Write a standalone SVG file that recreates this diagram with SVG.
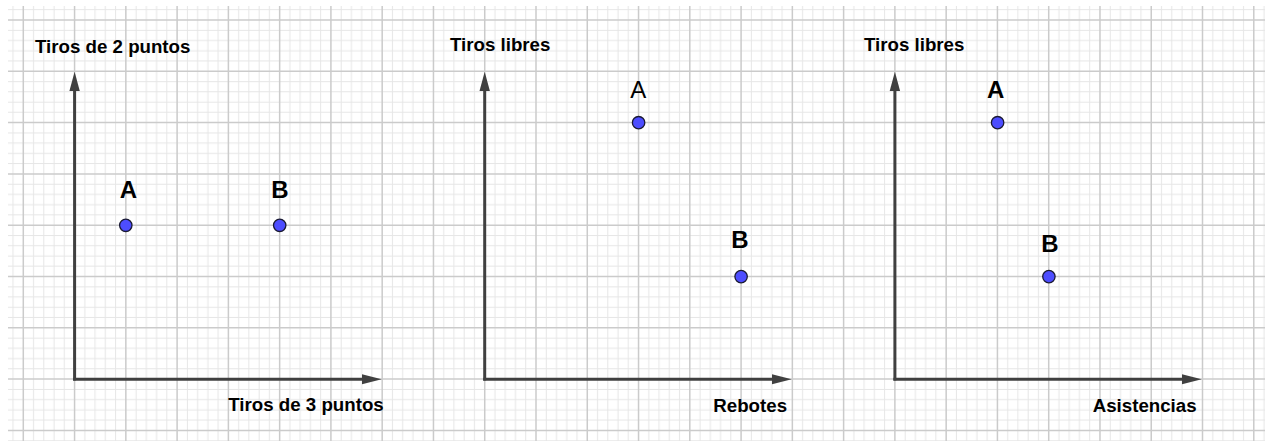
<svg xmlns="http://www.w3.org/2000/svg" width="1265" height="441" viewBox="0 0 1265 441">
  <style>
    .axis { stroke: #404040; stroke-width: 3; fill: none; }
    .head { fill: #404040; }
    .major { stroke: #cbcbcb; stroke-width: 1.5; fill: none; }
    .lbl { font-family: "Liberation Sans", Arial, sans-serif; font-weight: bold; font-size: 18.7px; fill: #000; }
    .pt { fill: #4d4dff; stroke: #1a1a33; stroke-width: 1.3; }
    .pl { font-family: "Liberation Sans", Arial, sans-serif; font-weight: bold; font-size: 24px; fill: #000; text-anchor: middle; }
    .plr { font-family: "Liberation Sans", Arial, sans-serif; font-size: 24px; fill: #000; text-anchor: middle; }
  </style>
  <defs>
    <pattern id="grid" patternUnits="userSpaceOnUse" x="23.3" y="20" width="51.27" height="51.3">
      <g stroke="#e6e6e6" stroke-width="1">
        <line x1="10.25" y1="0" x2="10.25" y2="51.3"/>
        <line x1="20.5" y1="0" x2="20.5" y2="51.3"/>
        <line x1="30.76" y1="0" x2="30.76" y2="51.3"/>
        <line x1="41.0" y1="0" x2="41.0" y2="51.3"/>
        <line x1="0" y1="10.26" x2="51.27" y2="10.26"/>
        <line x1="0" y1="20.52" x2="51.27" y2="20.52"/>
        <line x1="0" y1="30.78" x2="51.27" y2="30.78"/>
        <line x1="0" y1="41.04" x2="51.27" y2="41.04"/>
      </g>
    </pattern>
  </defs>
  <rect x="0" y="0" width="1265" height="441" fill="#ffffff"/>
  <rect x="8" y="6" width="1257" height="435" fill="url(#grid)"/>
  <path class="major" d="M23.3 6V441 M74.57 6V441 M125.84 6V441 M177.11 6V441 M228.38 6V441 M279.65 6V441 M330.92 6V441 M382.19 6V441 M433.46 6V441 M484.73 6V441 M536 6V441 M587.27 6V441 M638.54 6V441 M689.81 6V441 M741.08 6V441 M792.35 6V441 M843.62 6V441 M894.89 6V441 M946.16 6V441 M997.43 6V441 M1048.7 6V441 M1099.97 6V441 M1151.24 6V441 M1202.51 6V441 M1253.78 6V441 M8 20H1265 M8 71.3H1265 M8 122.6H1265 M8 173.9H1265 M8 225.2H1265 M8 276.5H1265 M8 327.8H1265 M8 379.1H1265 M8 430.4H1265"/>

  <g id="connectors">
    <line class="axis" x1="74.6" y1="380.5" x2="74.6" y2="88"/>
    <polygon class="head" points="74.6,71.7 69.4,91 79.8,91"/>
    <line class="axis" x1="73.1" y1="379.3" x2="365" y2="379.3"/>
    <polygon class="head" points="381.7,379.3 362,374.3 362,384.3"/>
    <line class="axis" x1="484.7" y1="380.5" x2="484.7" y2="88"/>
    <polygon class="head" points="484.7,71.7 479.5,91 489.9,91"/>
    <line class="axis" x1="483.2" y1="379.3" x2="775" y2="379.3"/>
    <polygon class="head" points="791.7,379.3 772,374.3 772,384.3"/>
    <line class="axis" x1="894.9" y1="380.5" x2="894.9" y2="88"/>
    <polygon class="head" points="894.9,71.7 889.7,91 900.1,91"/>
    <line class="axis" x1="893.4" y1="379.3" x2="1185" y2="379.3"/>
    <polygon class="head" points="1201.7,379.3 1182,374.3 1182,384.3"/>
  </g>

  <g id="axis-labels">
    <text class="lbl" x="35" y="52.5">Tiros de 2 puntos</text>
    <text class="lbl" x="228.3" y="411">Tiros de 3 puntos</text>
    <text class="lbl" x="450" y="50.7">Tiros libres</text>
    <text class="lbl" x="713.3" y="412">Rebotes</text>
    <text class="lbl" x="864" y="50.7">Tiros libres</text>
    <text class="lbl" x="1092.7" y="411.7">Asistencias</text>
  </g>

  <g id="p1-A">
    <circle class="pt" cx="125.8" cy="225.3" r="6.2"/>
    <text class="pl" x="128.3" y="198.3">A</text>
  </g>
  <g id="p1-B">
    <circle class="pt" cx="279.7" cy="225.3" r="6.2"/>
    <text class="pl" x="280" y="198.3">B</text>
  </g>
  <g id="p2-A">
    <circle class="pt" cx="638.6" cy="122.7" r="6.2"/>
    <text class="plr" x="638.3" y="97.7">A</text>
  </g>
  <g id="p2-B">
    <circle class="pt" cx="741.1" cy="276.6" r="6.2"/>
    <text class="pl" x="740" y="248.3">B</text>
  </g>
  <g id="p3-A">
    <circle class="pt" cx="997.6" cy="122.7" r="6.2"/>
    <text class="pl" x="995.7" y="98.3">A</text>
  </g>
  <g id="p3-B">
    <circle class="pt" cx="1048.9" cy="276.6" r="6.2"/>
    <text class="pl" x="1050" y="251.7">B</text>
  </g>
</svg>
